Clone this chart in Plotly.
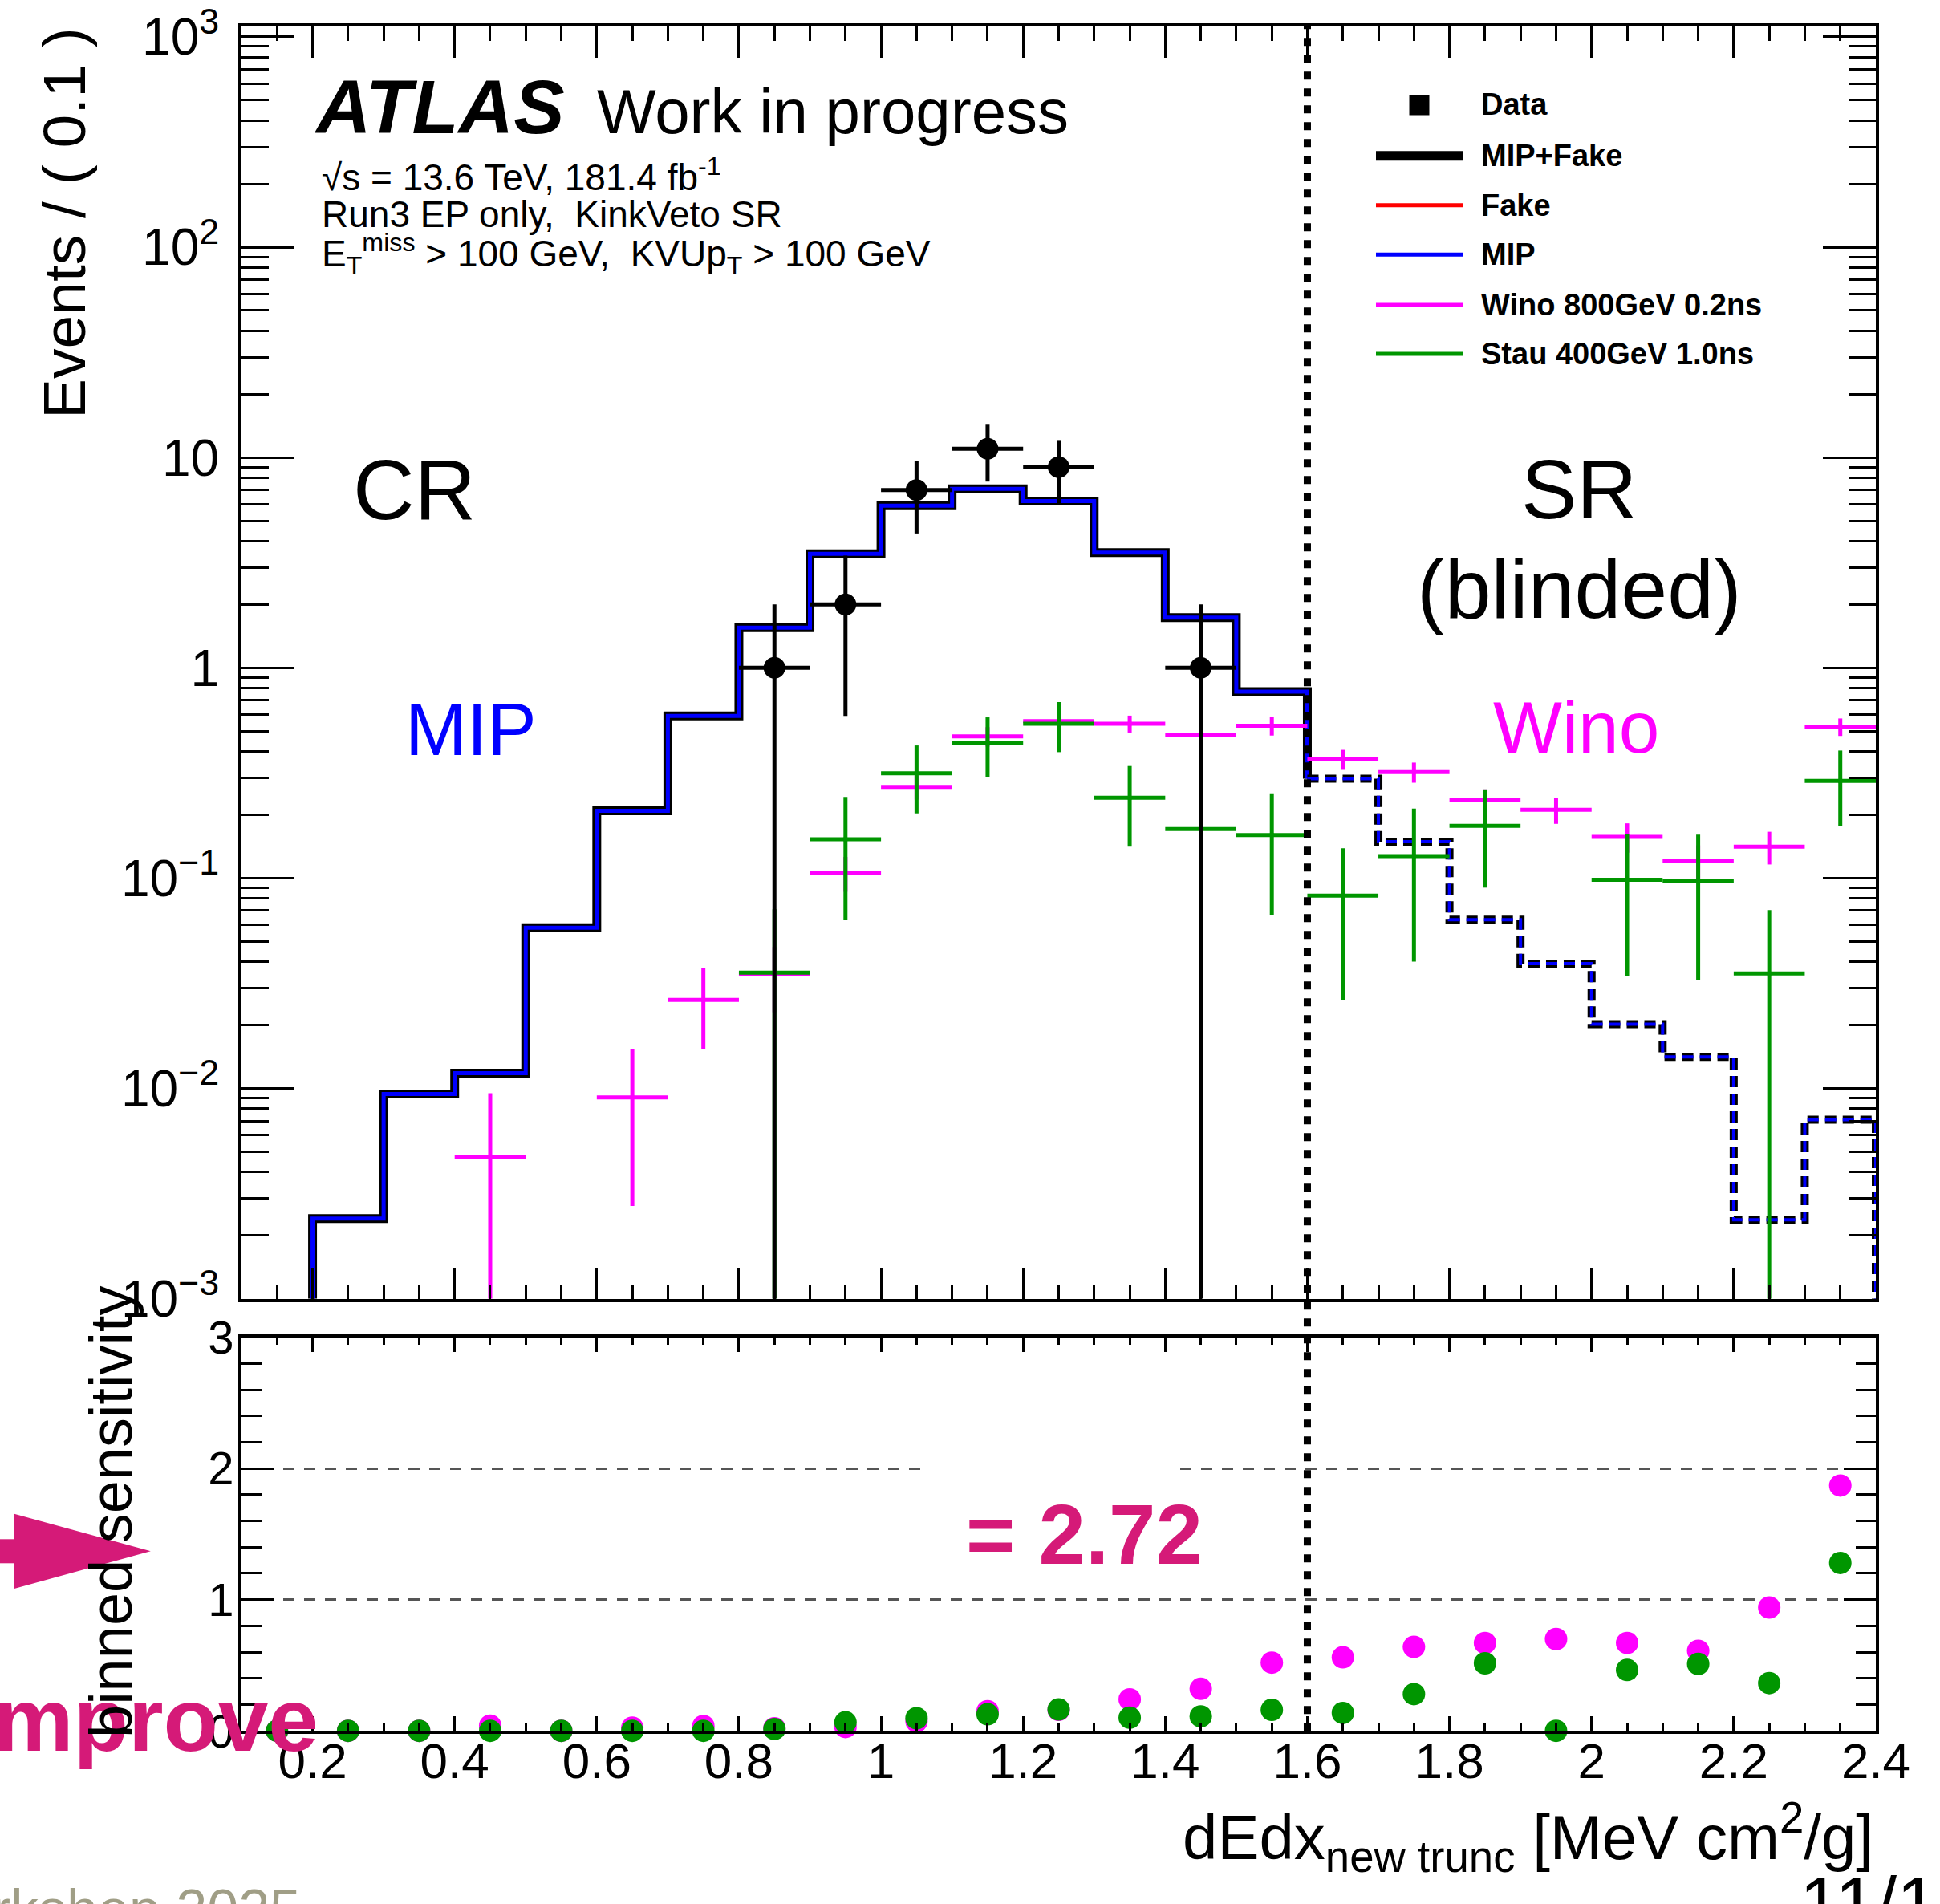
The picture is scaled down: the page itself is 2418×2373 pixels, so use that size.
import plotly.graph_objects as go

# ---------------------------------------------------------------- data
bin_edges = [0.1, 0.2, 0.3, 0.4, 0.5, 0.6, 0.7, 0.8, 0.9, 1.0, 1.1, 1.2,
             1.3, 1.4, 1.5, 1.6, 1.7, 1.8, 1.9, 2.0, 2.1, 2.2, 2.3, 2.4]
bin_centers = [0.15, 0.25, 0.35, 0.45, 0.55, 0.65, 0.75, 0.85, 0.95, 1.05, 1.15, 1.25,
               1.35, 1.45, 1.55, 1.65, 1.75, 1.85, 1.95, 2.05, 2.15, 2.25, 2.35]
BIN_HALF_WIDTH = 0.05
SR_BOUNDARY = 1.6

mip_fake_events = [0.0, 0.0024, 0.0094, 0.0118, 0.058, 0.209, 0.59, 1.55, 3.48, 5.9, 7.1, 6.2,
                   3.53, 1.73, 0.77, 0.297, 0.149, 0.0634, 0.0392, 0.0202, 0.0141, 0.00237, 0.0071]
mip_events = [0.0, 0.0024, 0.0094, 0.0118, 0.058, 0.209, 0.59, 1.55, 3.48, 5.9, 7.1, 6.2,
              3.53, 1.73, 0.77, 0.297, 0.149, 0.0634, 0.0392, 0.0202, 0.0141, 0.00237, 0.0071]
fake_events = [0.0, 0.0, 0.0, 0.0, 0.0, 0.0, 0.0, 0.0, 0.0, 0.0, 0.0, 0.0,
               0.0, 0.0, 0.0, 0.0, 0.0, 0.0, 0.0, 0.0, 0.0, 0.0, 0.0]

data_x = [0.85, 0.95, 1.05, 1.15, 1.25, 1.45]
data_events = [1, 2, 7, 11, 9, 1]
data_err = [1.0, 1.41, 2.65, 3.32, 3.0, 1.0]

wino_events = [0.0, 0.0, 0.0, 0.00474, 0.0, 0.00906, 0.0263, 0.035, 0.106, 0.271, 0.472, 0.557,
               0.542, 0.477, 0.530, 0.367, 0.319, 0.234, 0.211, 0.157, 0.121, 0.141, 0.524]
wino_err = [0.0, 0.0, 0.0, 0.00474, 0.0, 0.0063, 0.011, 0.012, 0.02, 0.035, 0.05, 0.055,
            0.05, 0.05, 0.054, 0.04, 0.035, 0.03, 0.03, 0.025, 0.022, 0.025, 0.05]
stau_events = [0.0, 0.0, 0.0, 0.0, 0.0, 0.0, 0.0, 0.0355, 0.153, 0.315, 0.441, 0.542,
               0.241, 0.171, 0.160, 0.0824, 0.127, 0.177, 0.0, 0.098, 0.0968, 0.0352, 0.29]
stau_err = [0.0, 0.0, 0.0, 0.0, 0.0, 0.0, 0.0, 0.0355, 0.09, 0.112, 0.14, 0.145,
            0.1, 0.085, 0.093, 0.056, 0.087, 0.087, 0.0, 0.064, 0.064, 0.0352, 0.114]

wino_sensitivity = [0.0, 0.0, 0.0, 0.04, 0.0, 0.024, 0.037, 0.02, 0.029, 0.073, 0.15, 0.16,
                    0.24, 0.32, 0.52, 0.56, 0.64, 0.67, 0.70, 0.67, 0.61, 0.94, 1.87]
stau_sensitivity = [0.0, 0.0, 0.0, 0.0, 0.0, 0.0, 0.0, 0.014, 0.065, 0.096, 0.126, 0.163,
                    0.10, 0.11, 0.16, 0.136, 0.28, 0.515, 0.0, 0.464, 0.51, 0.364, 1.28]

x_tick_vals = [0.2, 0.4, 0.6, 0.8, 1.0, 1.2, 1.4, 1.6, 1.8, 2.0, 2.2, 2.4]
x_tick_labels = ["0.2", "0.4", "0.6", "0.8", "1", "1.2", "1.4", "1.6", "1.8", "2", "2.2", "2.4"]
y_tick_vals = [0.001, 0.01, 0.1, 1, 10, 100, 1000]
y_tick_labels = ["10<sup>\u22123</sup>", "10<sup>\u22122</sup>", "10<sup>\u22121</sup>",
                 "1", "10", "10<sup>2</sup>", "10<sup>3</sup>"]
ratio_tick_vals = [0, 1, 2, 3]
ratio_tick_labels = ["0", "1", "2", "3"]

X_RANGE = [0.1, 2.4]
Y_LOG_RANGE = [-3, 3.051]
RATIO_RANGE = [0, 3]

# ---------------------------------------------------------------- style
W, H = 2418, 2373
FONT = "Liberation Sans, Arial, Helvetica, sans-serif"
BLUE = "#0000FF"
MAGENTA = "#FF00FF"
GREEN = "#009600"
RED = "#FF0000"
PINK = "#D51A78"


def px(x):
    return x / W


def py(y):
    return 1 - y / H


FLOOR = 10 ** (Y_LOG_RANGE[0] - 1)   # ROOT draws empty bins at the pad floor


def floored(v):
    return v if v > 0 else FLOOR


def positive(vals):
    return [v if v > 0 else None for v in vals]


n_bins = len(bin_centers)
cr_idx = [i for i in range(n_bins) if bin_edges[i] < SR_BOUNDARY - 1e-9]
sr_idx = [i for i in range(n_bins) if bin_edges[i] >= SR_BOUNDARY - 1e-9]


def cr_step(vals):
    xs = [bin_edges[i] for i in cr_idx] + [bin_edges[sr_idx[0]]]
    ys = [floored(vals[i]) for i in cr_idx] + [floored(vals[sr_idx[0]])]
    return xs, ys


def sr_step(vals):
    xs = [bin_edges[i] for i in sr_idx] + [bin_edges[-1]]
    ys = [floored(vals[i]) for i in sr_idx] + [FLOOR]
    return xs, ys


fig = go.Figure()

# ----- top panel: histograms
cx, cy = cr_step(fake_events)
fig.add_trace(go.Scatter(x=cx, y=cy, mode="lines", line=dict(color=RED, width=5, shape="hv"),
                         showlegend=False, xaxis="x", yaxis="y"))
cx, cy = cr_step(mip_fake_events)
fig.add_trace(go.Scatter(x=cx, y=cy, mode="lines", line=dict(color="black", width=11, shape="hv"),
                         showlegend=False, xaxis="x", yaxis="y"))
cx, cy = cr_step(mip_events)
fig.add_trace(go.Scatter(x=cx, y=cy, mode="lines", line=dict(color=BLUE, width=5, shape="hv"),
                         showlegend=False, xaxis="x", yaxis="y"))
sx, sy = sr_step(mip_fake_events)
fig.add_trace(go.Scatter(x=sx, y=sy, mode="lines",
                         line=dict(color="black", width=10, shape="hv", dash="14px,8px"),
                         showlegend=False, xaxis="x", yaxis="y"))
sx, sy = sr_step(mip_events)
fig.add_trace(go.Scatter(x=sx, y=sy, mode="lines",
                         line=dict(color=BLUE, width=4, shape="hv", dash="14px,8px"),
                         showlegend=False, xaxis="x", yaxis="y"))

# ----- top panel: signal samples (crosses)
for vals, errs, col in [(wino_events, wino_err, MAGENTA), (stau_events, stau_err, GREEN)]:
    fig.add_trace(go.Scatter(
        x=bin_centers, y=positive(vals), mode="markers",
        marker=dict(size=0, color=col),
        error_x=dict(type="constant", value=BIN_HALF_WIDTH, width=0, thickness=5, color=col),
        error_y=dict(type="data", array=errs, width=0, thickness=5, color=col),
        showlegend=False, xaxis="x", yaxis="y"))

# ----- top panel: data
fig.add_trace(go.Scatter(
    x=data_x, y=data_events, mode="markers",
    marker=dict(size=27, color="black", symbol="circle"),
    error_x=dict(type="constant", value=BIN_HALF_WIDTH, width=0, thickness=5, color="black"),
    error_y=dict(type="data", array=data_err, width=0, thickness=5, color="black"),
    showlegend=False, xaxis="x", yaxis="y"))

# ----- bottom panel: binned sensitivity
fig.add_trace(go.Scatter(x=bin_centers, y=wino_sensitivity, mode="markers",
                         marker=dict(size=28, color=MAGENTA), cliponaxis=False,
                         showlegend=False, xaxis="x2", yaxis="y2"))
fig.add_trace(go.Scatter(x=bin_centers, y=stau_sensitivity, mode="markers",
                         marker=dict(size=28, color=GREEN), cliponaxis=False,
                         showlegend=False, xaxis="x2", yaxis="y2"))

# ---------------------------------------------------------------- axes
X_DOMAIN = [px(301), px(2338)]
TOP_DOMAIN = [py(1618.5), py(32.6)]
BOT_DOMAIN = [py(2157.2), py(1666.6)]

common_x = dict(range=X_RANGE, showgrid=False, zeroline=False, showline=True, linewidth=4,
                linecolor="black", mirror="ticks", ticks="inside", tickwidth=3,
                tickcolor="black", tickvals=x_tick_vals, ticktext=x_tick_labels,
                automargin=False)

fig.update_layout(
    width=W, height=H,
    margin=dict(l=0, r=0, t=0, b=0, pad=0, autoexpand=False),
    paper_bgcolor="white", plot_bgcolor="white", showlegend=False,
    font=dict(family=FONT, color="black"),
    xaxis=dict(domain=X_DOMAIN, anchor="y", ticklen=39, showticklabels=False,
               minor=dict(ticks="inside", ticklen=18, tickwidth=3, tickcolor="black",
                          tick0=0, dtick=0.05, showgrid=False),
               **common_x),
    yaxis=dict(domain=TOP_DOMAIN, anchor="x", type="log", range=Y_LOG_RANGE,
               showgrid=False, zeroline=False, showline=True, linewidth=4, linecolor="black",
               mirror="ticks", ticks="inside", ticklen=66, tickwidth=3, tickcolor="black",
               tickvals=y_tick_vals, ticktext=y_tick_labels, automargin=False,
               tickfont=dict(size=64, family=FONT), ticklabelstandoff=11,
               minor=dict(ticks="inside", ticklen=34, tickwidth=3, tickcolor="black",
                          dtick="D1", showgrid=False)),
    xaxis2=dict(domain=X_DOMAIN, anchor="y2", ticklen=18,
                tickfont=dict(size=62, family=FONT), ticklabelstandoff=-20,
                minor=dict(ticks="inside", ticklen=9, tickwidth=3, tickcolor="black",
                           tick0=0, dtick=0.05, showgrid=False),
                **common_x),
    yaxis2=dict(domain=BOT_DOMAIN, anchor="x2", range=RATIO_RANGE, zeroline=False,
                showline=True, linewidth=4, linecolor="black", mirror="ticks",
                ticks="inside", ticklen=40, tickwidth=3, tickcolor="black",
                tickvals=ratio_tick_vals, ticktext=ratio_tick_labels, automargin=False,
                tickfont=dict(size=58, family=FONT), ticklabelstandoff=-6,
                showgrid=True, gridcolor="#555555", gridwidth=3, griddash="14px,12px",
                minor=dict(ticks="inside", ticklen=25, tickwidth=3, tickcolor="black",
                           tick0=0, dtick=0.2, showgrid=False)),
)

# ---------------------------------------------------------------- shapes
shapes = []
# CR / SR boundary across both panels
shapes.append(dict(type="line", xref="x", yref="paper", x0=SR_BOUNDARY, x1=SR_BOUNDARY,
                   y0=py(2157.2), y1=py(32.6), layer="above",
                   line=dict(color="black", width=9, dash="10px,11px")))
# slide overlay gap in the y=2 reference line
shapes.append(dict(type="rect", xref="x2", yref="y2", x0=1.062, x1=1.41, y0=1.85, y1=2.15,
                   fillcolor="white", line=dict(width=0), layer="between"))
# legend symbols
LEG_X0, LEG_X1 = 1715, 1823
leg_rows = [("MIP+Fake", "black", 12, 194.3), ("Fake", RED, 5, 255.7), ("MIP", BLUE, 5, 317.3),
            ("Wino 800GeV 0.2ns", MAGENTA, 5, 380.0), ("Stau 400GeV 1.0ns", GREEN, 5, 441.0)]
for _, col, wid, yy in leg_rows:
    shapes.append(dict(type="line", xref="paper", yref="paper", x0=px(LEG_X0), x1=px(LEG_X1),
                       y0=py(yy), y1=py(yy), line=dict(color=col, width=wid)))
shapes.append(dict(type="rect", xref="paper", yref="paper", x0=px(1756.5), x1=px(1781.5),
                   y0=py(143.5), y1=py(118.5), fillcolor="black", line=dict(width=0)))
# slide arrow
shapes.append(dict(type="path", xref="paper", yref="paper",
                   path=f"M {px(17.8)},{py(1886.7)} L {px(187.8)},{py(1933.3)} L {px(17.8)},{py(1980)} Z",
                   fillcolor=PINK, line=dict(width=0)))
shapes.append(dict(type="rect", xref="paper", yref="paper", x0=px(-5), x1=px(20),
                   y0=py(1948.3), y1=py(1918.3), fillcolor=PINK, line=dict(width=0)))
fig.update_layout(shapes=shapes)

# ---------------------------------------------------------------- text
NB = "\u00a0"


def ann(text, x, y, size, color="black", xanchor="center", yanchor="middle",
        weight="normal", style="normal", angle=0):
    return dict(text=text, x=px(x), y=py(y), xref="paper", yref="paper",
                xanchor=xanchor, yanchor=yanchor, showarrow=False, textangle=angle,
                borderpad=0,
                font=dict(family=FONT, size=size, color=color, weight=weight, style=style))


annotations = [
    ann("ATLAS", 391, 132.7, 95, xanchor="left", weight="bold", style="italic"),
    ann("Work in progress", 743, 138.8, 78, xanchor="left"),
    ann("\u221as = 13.6 TeV, 181.4 fb<sup>-1</sup>", 400, 218.4, 46, xanchor="left"),
    ann(f"Run3 EP only,{NB}{NB}KinkVeto SR", 400, 267.4, 46, xanchor="left"),
    ann(f"E<sub>T</sub><sup>miss</sup> &gt; 100 GeV,{NB}{NB}KVUp<sub>T</sub> &gt; 100 GeV",
        400, 317.0, 46, xanchor="left"),
    ann("CR", 516, 610, 106),
    ann("MIP", 586.5, 908.5, 92, color=BLUE),
    ann("SR", 1967.5, 610, 104),
    ann("(blinded)", 1968, 734, 104),
    ann("Wino", 1965, 907, 91, color=MAGENTA),
    ann("= 2.72", 1351, 1912, 105, color=PINK, weight="bold"),
    ann("mprove", 398, 2143, 112, color=PINK, xanchor="right", weight="bold"),
    ann("Events / ( 0.1 )", 80, 278, 75, angle=-90),
    ann("binned sensitivity", 138, 1884, 74, angle=-90),
    ann("dEdx<sub>new trunc</sub> [MeV cm<sup>2</sup>/g]", 2336, 2290, 78, xanchor="right"),
    ann("Workshop 2025", 376, 2340, 70, color="#A09E86", xanchor="right", yanchor="top"),
    ann("11/13", 2242, 2320, 92, xanchor="left", yanchor="top"),
    ann("Data", 1845, 130, 38, xanchor="left", weight="bold"),
]
for name, _, _, yy in leg_rows:
    annotations.append(ann(name, 1845, yy, 38, xanchor="left", weight="bold"))
fig.update_layout(annotations=annotations)

fig.write_html("out.html", config={"displayModeBar": False},
               post_script="document.body.style.margin='0px';")
